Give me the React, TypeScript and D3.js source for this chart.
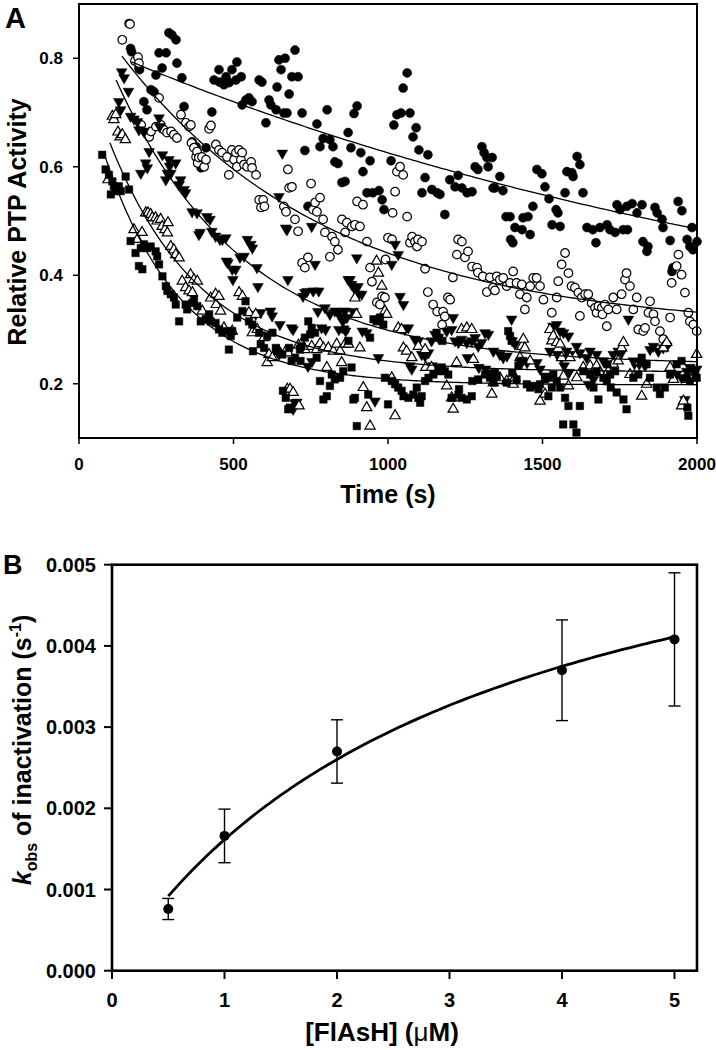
import React, { useEffect, useRef } from 'react'
import * as d3 from 'd3'

const FONT = '"Liberation Sans", Arial, Helvetica, sans-serif'

// ---- panel A: relative PTP activity vs time, one series per FlAsH concentration ----
// [time (s), relative activity]
const filledCircles: [number, number][] = [
  [162,0.864],[167,0.818],[170,0.812],[194,0.782],[196,0.779],[210,0.720],[220,0.705],[233,0.742],[243,0.738],[249,0.769],
  [259,0.810],[269,0.782],[282,0.810],[291,0.847],[301,0.843],[314,0.834],[317,0.791],[333,0.764],[340,0.711],[366,0.646],
  [379,0.637],[395,0.598],[411,0.635],[430,0.701],[437,0.760],[453,0.779],[455,0.756],[469,0.751],[476,0.766],[486,0.755],
  [495,0.779],[508,0.760],[511,0.793],[525,0.766],[528,0.714],[540,0.723],[550,0.727],[560,0.720],[583,0.760],[592,0.756],
  [605,0.681],[615,0.723],[621,0.714],[638,0.705],[641,0.747],[647,0.797],[654,0.779],[663,0.699],[667,0.800],[673,0.699],
  [680,0.734],[689,0.766],[699,0.815],[709,0.766],[722,0.699],[731,0.630],[741,0.527],[757,0.525],[770,0.679],[780,0.637],
  [790,0.652],[803,0.705],[812,0.650],[822,0.637],[828,0.609],[838,0.606],[851,0.571],[861,0.573],[871,0.663],[880,0.635],
  [890,0.698],[900,0.712],[912,0.626],[919,0.591],[932,0.552],[942,0.611],[951,0.552],[971,0.556],[981,0.539],[987,0.521],
  [1010,0.611],[1019,0.677],[1029,0.696],[1042,0.699],[1049,0.745],[1062,0.773],[1071,0.699],[1081,0.655],[1091,0.672],[1100,0.631],
  [1110,0.552],[1120,0.580],[1129,0.622],[1142,0.558],[1159,0.552],[1168,0.549],[1184,0.512],[1200,0.576],[1217,0.563],[1227,0.584],
  [1239,0.561],[1256,0.552],[1272,0.554],[1282,0.600],[1291,0.595],[1304,0.637],[1311,0.626],[1320,0.617],[1324,0.600],[1337,0.617],
  [1340,0.561],[1346,0.561],[1362,0.582],[1372,0.556],[1382,0.508],[1395,0.508],[1397,0.466],[1404,0.460],[1411,0.488],[1434,0.484],
  [1437,0.506],[1453,0.508],[1460,0.475],[1469,0.527],[1482,0.595],[1498,0.587],[1508,0.563],[1521,0.541],[1531,0.493],[1544,0.521],
  [1550,0.515],[1557,0.490],[1573,0.552],[1579,0.591],[1595,0.589],[1599,0.582],[1612,0.619],[1621,0.604],[1631,0.552],[1644,0.488],
  [1663,0.484],[1673,0.460],[1686,0.488],[1709,0.493],[1718,0.484],[1735,0.479],[1741,0.530],[1751,0.521],[1761,0.484],[1773,0.527],
  [1775,0.484],[1790,0.532],[1806,0.515],[1822,0.530],[1825,0.462],[1838,0.444],[1841,0.453],[1864,0.525],[1871,0.515],[1887,0.503],
  [1890,0.488],[1913,0.464],[1919,0.407],[1922,0.414],[1939,0.536],[1951,0.519],[1968,0.466],[1977,0.453],[1984,0.488],[1987,0.447],
  [2000,0.462]
]

const openCircles: [number, number][] = [
  [140,0.834],[165,0.863],[181,0.795],[191,0.802],[194,0.791],[201,0.677],[217,0.663],[227,0.655],[233,0.665],[249,0.674],
  [259,0.727],[265,0.677],[275,0.668],[285,0.663],[298,0.665],[307,0.659],[317,0.653],[330,0.696],[346,0.681],[356,0.674],
  [362,0.677],[364,0.644],[372,0.635],[379,0.618],[382,0.628],[384,0.607],[388,0.617],[398,0.618],[405,0.600],[411,0.613],
  [421,0.670],[427,0.676],[443,0.641],[453,0.631],[463,0.626],[479,0.618],[485,0.585],[495,0.631],[502,0.613],[508,0.626],
  [511,0.600],[518,0.631],[524,0.613],[528,0.626],[534,0.604],[544,0.600],[557,0.609],[560,0.598],[573,0.585],[583,0.539],
  [589,0.525],[596,0.539],[600,0.527],[663,0.527],[670,0.517],[676,0.595],[680,0.561],[689,0.563],[699,0.503],[709,0.481],
  [722,0.423],[731,0.414],[741,0.433],[751,0.569],[757,0.521],[764,0.534],[770,0.517],[780,0.543],[790,0.503],[796,0.479],
  [812,0.434],[819,0.471],[828,0.462],[838,0.447],[851,0.503],[861,0.479],[867,0.497],[883,0.490],[893,0.493],[900,0.536],
  [909,0.490],[919,0.530],[932,0.462],[942,0.414],[948,0.388],[964,0.350],[974,0.346],[981,0.361],[990,0.359],[992,0.429],
  [1000,0.469],[1013,0.466],[1015,0.515],[1023,0.554],[1029,0.591],[1039,0.600],[1049,0.585],[1062,0.508],[1071,0.460],[1078,0.471],
  [1087,0.462],[1094,0.453],[1097,0.466],[1110,0.462],[1120,0.412],[1129,0.369],[1146,0.346],[1159,0.333],[1175,0.309],[1178,0.333],
  [1184,0.324],[1194,0.359],[1201,0.355],[1210,0.396],[1223,0.438],[1227,0.466],[1239,0.462],[1249,0.433],[1259,0.444],[1272,0.416],
  [1288,0.414],[1291,0.405],[1307,0.398],[1320,0.369],[1330,0.396],[1340,0.377],[1346,0.372],[1352,0.398],[1362,0.392],[1373,0.395],
  [1384,0.380],[1395,0.386],[1405,0.407],[1416,0.386],[1427,0.365],[1433,0.383],[1443,0.337],[1449,0.359],[1460,0.380],[1470,0.395],
  [1481,0.395],[1492,0.380],[1503,0.355],[1530,0.331],[1546,0.359],[1551,0.389],[1562,0.420],[1573,0.441],[1584,0.404],[1594,0.380],
  [1605,0.377],[1616,0.368],[1621,0.325],[1627,0.359],[1638,0.365],[1648,0.365],[1659,0.349],[1670,0.340],[1675,0.331],[1681,0.343],
  [1692,0.340],[1694,0.328],[1702,0.346],[1708,0.306],[1713,0.337],[1729,0.359],[1740,0.337],[1756,0.365],[1767,0.392],[1772,0.404],
  [1783,0.380],[1794,0.337],[1805,0.359],[1810,0.300],[1826,0.297],[1832,0.303],[1843,0.331],[1848,0.352],[1859,0.328],[1864,0.315],
  [1880,0.297],[1891,0.282],[1902,0.273],[1913,0.322],[1918,0.386],[1934,0.417],[1940,0.438],[1950,0.401],[1961,0.368],[1972,0.331],
  [1977,0.315],[1988,0.309],[1999,0.297]
]

const downTriangles: [number, number][] = [
  [129,0.720],[135,0.705],[138,0.775],[146,0.764],[160,0.739],[167,0.693],[178,0.688],[189,0.683],[194,0.668],[200,0.588],
  [210,0.665],[216,0.607],[221,0.598],[227,0.628],[259,0.690],[261,0.674],[270,0.622],[281,0.576],[286,0.588],[291,0.613],
  [293,0.601],[297,0.588],[313,0.607],[324,0.567],[329,0.576],[340,0.558],[345,0.552],[366,0.517],[382,0.515],[388,0.475],
  [392,0.479],[414,0.508],[424,0.503],[430,0.481],[442,0.472],[456,0.466],[464,0.466],[475,0.469],[477,0.426],[482,0.423],
  [496,0.411],[498,0.392],[507,0.411],[521,0.433],[534,0.435],[545,0.466],[556,0.457],[561,0.450],[572,0.328],[576,0.414],
  [579,0.379],[588,0.331],[615,0.248],[620,0.334],[625,0.325],[647,0.254],[647,0.545],[650,0.309],[658,0.625],[669,0.487],
  [673,0.484],[676,0.392],[688,0.303],[693,0.300],[693,0.153],[699,0.165],[705,0.166],[725,0.361],[731,0.368],[738,0.370],
  [741,0.232],[753,0.490],[754,0.241],[758,0.371],[764,0.420],[773,0.333],[776,0.371],[785,0.303],[796,0.340],[798,0.300],
  [812,0.328],[828,0.334],[839,0.331],[841,0.300],[845,0.324],[854,0.315],[861,0.334],[863,0.297],[867,0.322],[871,0.392],
  [877,0.392],[882,0.383],[887,0.333],[893,0.374],[899,0.432],[903,0.379],[904,0.365],[915,0.365],[917,0.297],[931,0.294],
  [958,0.168],[969,0.248],[1012,0.420],[1023,0.457],[1033,0.438],[1039,0.361],[1050,0.346],[1055,0.300],[1066,0.303],[1071,0.233],
  [1077,0.227],[1087,0.282],[1098,0.279],[1109,0.254],[1120,0.251],[1131,0.257],[1141,0.279],[1143,0.233],[1152,0.291],[1154,0.230],
  [1163,0.285],[1190,0.297],[1206,0.300],[1211,0.322],[1217,0.279],[1228,0.276],[1238,0.282],[1255,0.276],[1257,0.248],[1271,0.279],
  [1282,0.285],[1292,0.269],[1294,0.230],[1303,0.276],[1314,0.294],[1316,0.227],[1325,0.291],[1336,0.220],[1341,0.260],[1362,0.254],
  [1373,0.248],[1385,0.251],[1400,0.319],[1402,0.279],[1411,0.273],[1434,0.241],[1450,0.239],[1482,0.239],[1492,0.227],[1508,0.214],
  [1524,0.260],[1534,0.306],[1546,0.309],[1548,0.254],[1557,0.297],[1562,0.248],[1568,0.294],[1570,0.233],[1578,0.260],[1584,0.288],
  [1586,0.221],[1589,0.254],[1610,0.269],[1621,0.257],[1643,0.248],[1648,0.199],[1654,0.260],[1665,0.208],[1675,0.254],[1697,0.242],
  [1729,0.254],[1745,0.260],[1756,0.257],[1778,0.319],[1794,0.242],[1805,0.230],[1816,0.239],[1832,0.233],[1848,0.263],[1859,0.269],
  [1875,0.260],[1891,0.266],[1902,0.269],[1934,0.217],[1950,0.211],[1961,0.171],[1967,0.223],[1977,0.230],[1999,0.227]
]

const openTriangles: [number, number][] = [
  [94,0.576],[108,0.693],[113,0.687],[119,0.696],[126,0.664],[133,0.655],[140,0.659],[150,0.650],[178,0.484],[189,0.466],
  [204,0.479],[216,0.515],[223,0.515],[232,0.512],[237,0.506],[248,0.506],[253,0.500],[264,0.503],[269,0.490],[278,0.484],
  [286,0.478],[288,0.497],[297,0.453],[307,0.447],[313,0.438],[324,0.432],[334,0.389],[345,0.377],[356,0.371],[361,0.401],
  [367,0.368],[372,0.392],[383,0.389],[399,0.334],[426,0.358],[442,0.365],[444,0.346],[453,0.361],[458,0.334],[469,0.303],
  [496,0.297],[518,0.368],[529,0.361],[550,0.331],[561,0.294],[572,0.328],[577,0.300],[599,0.285],[609,0.239],[615,0.254],
  [626,0.248],[647,0.260],[669,0.260],[674,0.190],[677,0.257],[683,0.190],[693,0.184],[710,0.271],[712,0.159],[720,0.274],
  [731,0.263],[753,0.269],[769,0.263],[780,0.274],[791,0.266],[802,0.230],[807,0.266],[823,0.260],[834,0.273],[845,0.260],
  [850,0.239],[861,0.273],[872,0.273],[893,0.358],[898,0.328],[909,0.266],[920,0.193],[931,0.156],[942,0.122],[963,0.426],
  [969,0.404],[980,0.380],[990,0.334],[996,0.328],[1012,0.211],[1023,0.141],[1033,0.303],[1044,0.300],[1050,0.266],[1060,0.260],
  [1077,0.248],[1098,0.269],[1120,0.263],[1122,0.230],[1141,0.230],[1190,0.196],[1206,0.174],[1211,0.153],[1222,0.239],[1238,0.300],
  [1255,0.303],[1271,0.300],[1276,0.245],[1336,0.181],[1341,0.202],[1362,0.211],[1384,0.205],[1405,0.199],[1411,0.211],[1427,0.248],
  [1433,0.269],[1438,0.282],[1443,0.266],[1460,0.242],[1492,0.168],[1508,0.181],[1524,0.300],[1530,0.279],[1535,0.288],[1546,0.276],
  [1557,0.273],[1562,0.248],[1568,0.214],[1584,0.196],[1589,0.248],[1611,0.211],[1632,0.230],[1654,0.233],[1665,0.223],[1675,0.233],
  [1686,0.221],[1713,0.223],[1729,0.236],[1745,0.242],[1756,0.266],[1762,0.276],[1783,0.217],[1805,0.223],[1821,0.177],[1837,0.199],
  [1891,0.266],[1902,0.276],[1913,0.230],[1924,0.208],[1950,0.159],[1956,0.168],[1967,0.208],[1977,0.211],[1999,0.254]
]

const filledSquares: [number, number][] = [
  [75,0.622],[86,0.595],[97,0.585],[103,0.549],[108,0.573],[113,0.564],[119,0.555],[129,0.564],[135,0.555],[151,0.582],
  [162,0.558],[167,0.463],[183,0.441],[194,0.417],[200,0.450],[205,0.411],[210,0.457],[221,0.450],[232,0.453],[248,0.444],
  [253,0.435],[259,0.420],[270,0.398],[281,0.380],[286,0.371],[297,0.365],[307,0.359],[313,0.346],[324,0.315],[345,0.346],
  [350,0.337],[367,0.349],[372,0.355],[383,0.343],[394,0.315],[410,0.319],[421,0.328],[426,0.315],[442,0.312],[453,0.300],
  [464,0.294],[475,0.297],[485,0.263],[491,0.288],[496,0.297],[512,0.322],[529,0.334],[539,0.352],[550,0.315],[561,0.309],
  [563,0.260],[583,0.294],[588,0.273],[599,0.266],[609,0.288],[626,0.294],[637,0.266],[642,0.260],[658,0.254],[660,0.187],
  [669,0.174],[677,0.153],[680,0.266],[682,0.156],[688,0.242],[699,0.248],[715,0.263],[717,0.242],[720,0.269],[731,0.285],
  [742,0.315],[748,0.291],[753,0.303],[764,0.294],[769,0.248],[780,0.205],[791,0.171],[802,0.177],[812,0.196],[818,0.217],
  [828,0.208],[845,0.211],[855,0.223],[861,0.300],[872,0.279],[882,0.230],[888,0.171],[893,0.174],[899,0.122],[936,0.180],
  [942,0.285],[953,0.319],[963,0.315],[974,0.322],[985,0.309],[990,0.211],[1000,0.162],[1012,0.205],[1023,0.199],[1033,0.193],
  [1044,0.187],[1050,0.177],[1066,0.174],[1082,0.180],[1093,0.193],[1098,0.174],[1104,0.165],[1109,0.177],[1120,0.205],[1131,0.211],
  [1147,0.217],[1157,0.294],[1163,0.223],[1165,0.285],[1174,0.230],[1176,0.279],[1184,0.223],[1195,0.217],[1206,0.174],[1228,0.180],
  [1230,0.190],[1238,0.174],[1255,0.171],[1271,0.177],[1273,0.205],[1292,0.208],[1314,0.217],[1330,0.211],[1341,0.202],[1346,0.220],
  [1352,0.214],[1384,0.202],[1389,0.297],[1395,0.288],[1400,0.279],[1402,0.220],[1416,0.208],[1422,0.233],[1427,0.242],[1438,0.242],
  [1449,0.199],[1460,0.193],[1470,0.196],[1487,0.190],[1492,0.199],[1508,0.208],[1519,0.177],[1521,0.211],[1530,0.193],[1535,0.217],
  [1546,0.205],[1557,0.193],[1567,0.125],[1573,0.174],[1584,0.159],[1600,0.125],[1610,0.110],[1621,0.159],[1632,0.223],[1654,0.217],
  [1665,0.193],[1675,0.223],[1681,0.171],[1697,0.211],[1708,0.205],[1710,0.236],[1719,0.217],[1721,0.193],[1735,0.223],[1740,0.184],
  [1762,0.171],[1772,0.153],[1794,0.211],[1810,0.217],[1821,0.248],[1837,0.236],[1848,0.211],[1870,0.193],[1880,0.181],[1896,0.193],
  [1913,0.217],[1934,0.236],[1950,0.242],[1967,0.211],[1969,0.156],[1972,0.141],[1977,0.205],[1994,0.223],[1999,0.211]
]

const aXTicks = [0, 500, 1000, 1500, 2000]
const aYTicks = [0.2, 0.4, 0.6, 0.8]

// single-exponential fits, y = a + b * exp(-k * t), one per series (same order)
const fitStart = [170, 139, 120, 100, 80]
const fitA = [0.2, 0.3, 0.235, 0.222, 0.198]
const fitB = [0.635, 0.619, 0.7, 0.593, 0.59]
const fitK = [0.0004, 0.00148, 0.0024, 0.0034, 0.004]

// ---- panel B: kobs vs [FlAsH] ----
const conc = [0.5, 1, 2, 4, 5]
const kobs = [0.00076, 0.00166, 0.0027, 0.0037, 0.00408]
const kobsErr = [0.00013, 0.00033, 0.00039, 0.00062, 0.00082]
const bXTicks = [0, 1, 2, 3, 4, 5]
const bYTicks = [0, 0.001, 0.002, 0.003, 0.004, 0.005]
// hyperbolic fit kobs = kMax * c / (kHalf + c)
const kMax = 0.0067
const kHalf = 3.15

const App = () => {
  const svgRef = useRef<SVGSVGElement>(null)

  useEffect(() => {
    const svg = d3.select(svgRef.current)
    svg.selectAll('*').remove()

    // ================= panel A =================
    const xA = d3.scaleLinear().domain([0, 2000]).range([79, 697])
    const yA = d3.scaleLinear().domain([0.1, 0.9]).range([438, 4])
    const gA = svg.append('g')

    const series = [
      { data: filledCircles, type: d3.symbolCircle, size: 64, filled: true, rot: 0 },
      { data: openCircles, type: d3.symbolCircle, size: 58, filled: false, rot: 0 },
      { data: downTriangles, type: d3.symbolTriangle, size: 50, filled: true, rot: 180 },
      { data: openTriangles, type: d3.symbolTriangle, size: 46, filled: false, rot: 0 },
      { data: filledSquares, type: d3.symbolSquare, size: 56, filled: true, rot: 0 }
    ]

    series.forEach(s => {
      const sym = d3.symbol().type(s.type).size(s.size)
      gA.append('g')
        .selectAll('path')
        .data(s.data)
        .join('path')
        .attr('d', sym)
        .attr('transform', d => `translate(${xA(d[0])},${yA(d[1])}) rotate(${s.rot})`)
        .attr('fill', s.filled ? '#000' : '#fff')
        .attr('stroke', '#000')
        .attr('stroke-width', s.filled ? 0.5 : 1.2)
    })

    const fitLine = d3.line<number>()
    fitStart.forEach((t0, i) => {
      const ts = d3.range(t0, 2000, 10).concat([2000])
      gA.append('path')
        .attr('d', fitLine(ts.map(t => [xA(t), yA(fitA[i] + fitB[i] * Math.exp(-fitK[i] * t))] as [number, number])))
        .attr('fill', 'none')
        .attr('stroke', '#000')
        .attr('stroke-width', 1.3)
    })

    gA.append('rect')
      .attr('x', 79).attr('y', 4).attr('width', 618).attr('height', 434)
      .attr('fill', 'none').attr('stroke', '#000').attr('stroke-width', 2)

    gA.selectAll('.xt').data(aXTicks).join('line')
      .attr('x1', d => xA(d)).attr('x2', d => xA(d)).attr('y1', 438).attr('y2', 444)
      .attr('stroke', '#000').attr('stroke-width', 1.5)
    gA.selectAll('.xl').data(aXTicks).join('text')
      .attr('x', d => xA(d)).attr('y', 470)
      .attr('text-anchor', 'middle')
      .style('font', `bold 17px ${FONT}`)
      .text(d => d)
    gA.selectAll('.yt').data(aYTicks).join('line')
      .attr('x1', 73).attr('x2', 79).attr('y1', d => yA(d)).attr('y2', d => yA(d))
      .attr('stroke', '#000').attr('stroke-width', 1.5)
    gA.selectAll('.yl').data(aYTicks).join('text')
      .attr('x', 63).attr('y', d => yA(d) + 6)
      .attr('text-anchor', 'end')
      .style('font', `bold 17px ${FONT}`)
      .text(d => d.toFixed(1))

    gA.append('text').attr('x', 388).attr('y', 503).attr('text-anchor', 'middle')
      .style('font', `bold 25px ${FONT}`).text('Time (s)')
    gA.append('text').attr('transform', 'translate(26,222) rotate(-90)').attr('text-anchor', 'middle')
      .style('font', `bold 25px ${FONT}`).text('Relative PTP Activity')
    gA.append('text').attr('x', 5).attr('y', 28)
      .style('font', `bold 29px ${FONT}`).text('A')

    // ================= panel B =================
    const xB = d3.scaleLinear().domain([0, 5.2]).range([112, 697])
    const yB = d3.scaleLinear().domain([0, 0.005]).range([970.7, 564.7])
    const gB = svg.append('g')

    const cs = d3.range(0.5, 5.0001, 0.05)
    gB.append('path')
      .attr('d', d3.line<number>().x(c => xB(c)).y(c => yB(kMax * c / (kHalf + c)))(cs))
      .attr('fill', 'none').attr('stroke', '#000').attr('stroke-width', 2.8)

    const pts = conc.map((c, i) => ({ c, k: kobs[i], e: kobsErr[i] }))
    gB.selectAll('.eb').data(pts).join('line')
      .attr('x1', d => xB(d.c)).attr('x2', d => xB(d.c))
      .attr('y1', d => yB(d.k - d.e)).attr('y2', d => yB(d.k + d.e))
      .attr('stroke', '#000').attr('stroke-width', 1.4)
    ;[-1, 1].forEach(sgn => {
      gB.selectAll('.cap' + sgn).data(pts).join('line')
        .attr('x1', d => xB(d.c) - 6).attr('x2', d => xB(d.c) + 6)
        .attr('y1', d => yB(d.k + sgn * d.e)).attr('y2', d => yB(d.k + sgn * d.e))
        .attr('stroke', '#000').attr('stroke-width', 1.4)
    })
    gB.selectAll('circle').data(pts).join('circle')
      .attr('cx', d => xB(d.c)).attr('cy', d => yB(d.k)).attr('r', 5)
      .attr('fill', '#000')

    gB.append('rect')
      .attr('x', 112).attr('y', 564.7).attr('width', 585).attr('height', 406)
      .attr('fill', 'none').attr('stroke', '#000').attr('stroke-width', 2.6)

    gB.selectAll('.xt').data(bXTicks).join('line')
      .attr('x1', d => xB(d)).attr('x2', d => xB(d)).attr('y1', 970.7).attr('y2', 979)
      .attr('stroke', '#000').attr('stroke-width', 2)
    gB.selectAll('.xl').data(bXTicks).join('text')
      .attr('x', d => xB(d)).attr('y', 1007)
      .attr('text-anchor', 'middle')
      .style('font', `bold 20px ${FONT}`)
      .text(d => d)
    gB.selectAll('.yt').data(bYTicks).join('line')
      .attr('x1', 104).attr('x2', 112).attr('y1', d => yB(d)).attr('y2', d => yB(d))
      .attr('stroke', '#000').attr('stroke-width', 2)
    gB.selectAll('.yl').data(bYTicks).join('text')
      .attr('x', 96).attr('y', d => yB(d) + 7)
      .attr('text-anchor', 'end')
      .style('font', `bold 20px ${FONT}`)
      .text(d => d.toFixed(3))

    const xl = gB.append('text').attr('x', 382).attr('y', 1041).attr('text-anchor', 'middle')
      .style('font', `bold 26px ${FONT}`)
    xl.append('tspan').text('[FlAsH] (')
    xl.append('tspan').style('font-weight', 'normal').text('\u03bc')
    xl.append('tspan').text('M)')

    const yl = gB.append('text').attr('transform', 'translate(31,750) rotate(-90)').attr('text-anchor', 'middle')
      .style('font', `bold 25px ${FONT}`)
    yl.append('tspan').style('font-style', 'italic').text('k')
    yl.append('tspan').attr('dy', 6).style('font-size', '16px').text('obs')
    yl.append('tspan').attr('dy', -6).text(' of inactivation (s')
    yl.append('tspan').attr('dy', -10).style('font-size', '16px').text('-1')
    yl.append('tspan').attr('dy', 10).text(')')

    gB.append('text').attr('x', 3).attr('y', 574)
      .style('font', `bold 27px ${FONT}`).text('B')
  }, [])

  return (
    <svg ref={svgRef} width={716} height={1050}
      style={{ position: 'absolute', left: 0, top: 0, background: '#fff' }} />
  )
}

export default App
